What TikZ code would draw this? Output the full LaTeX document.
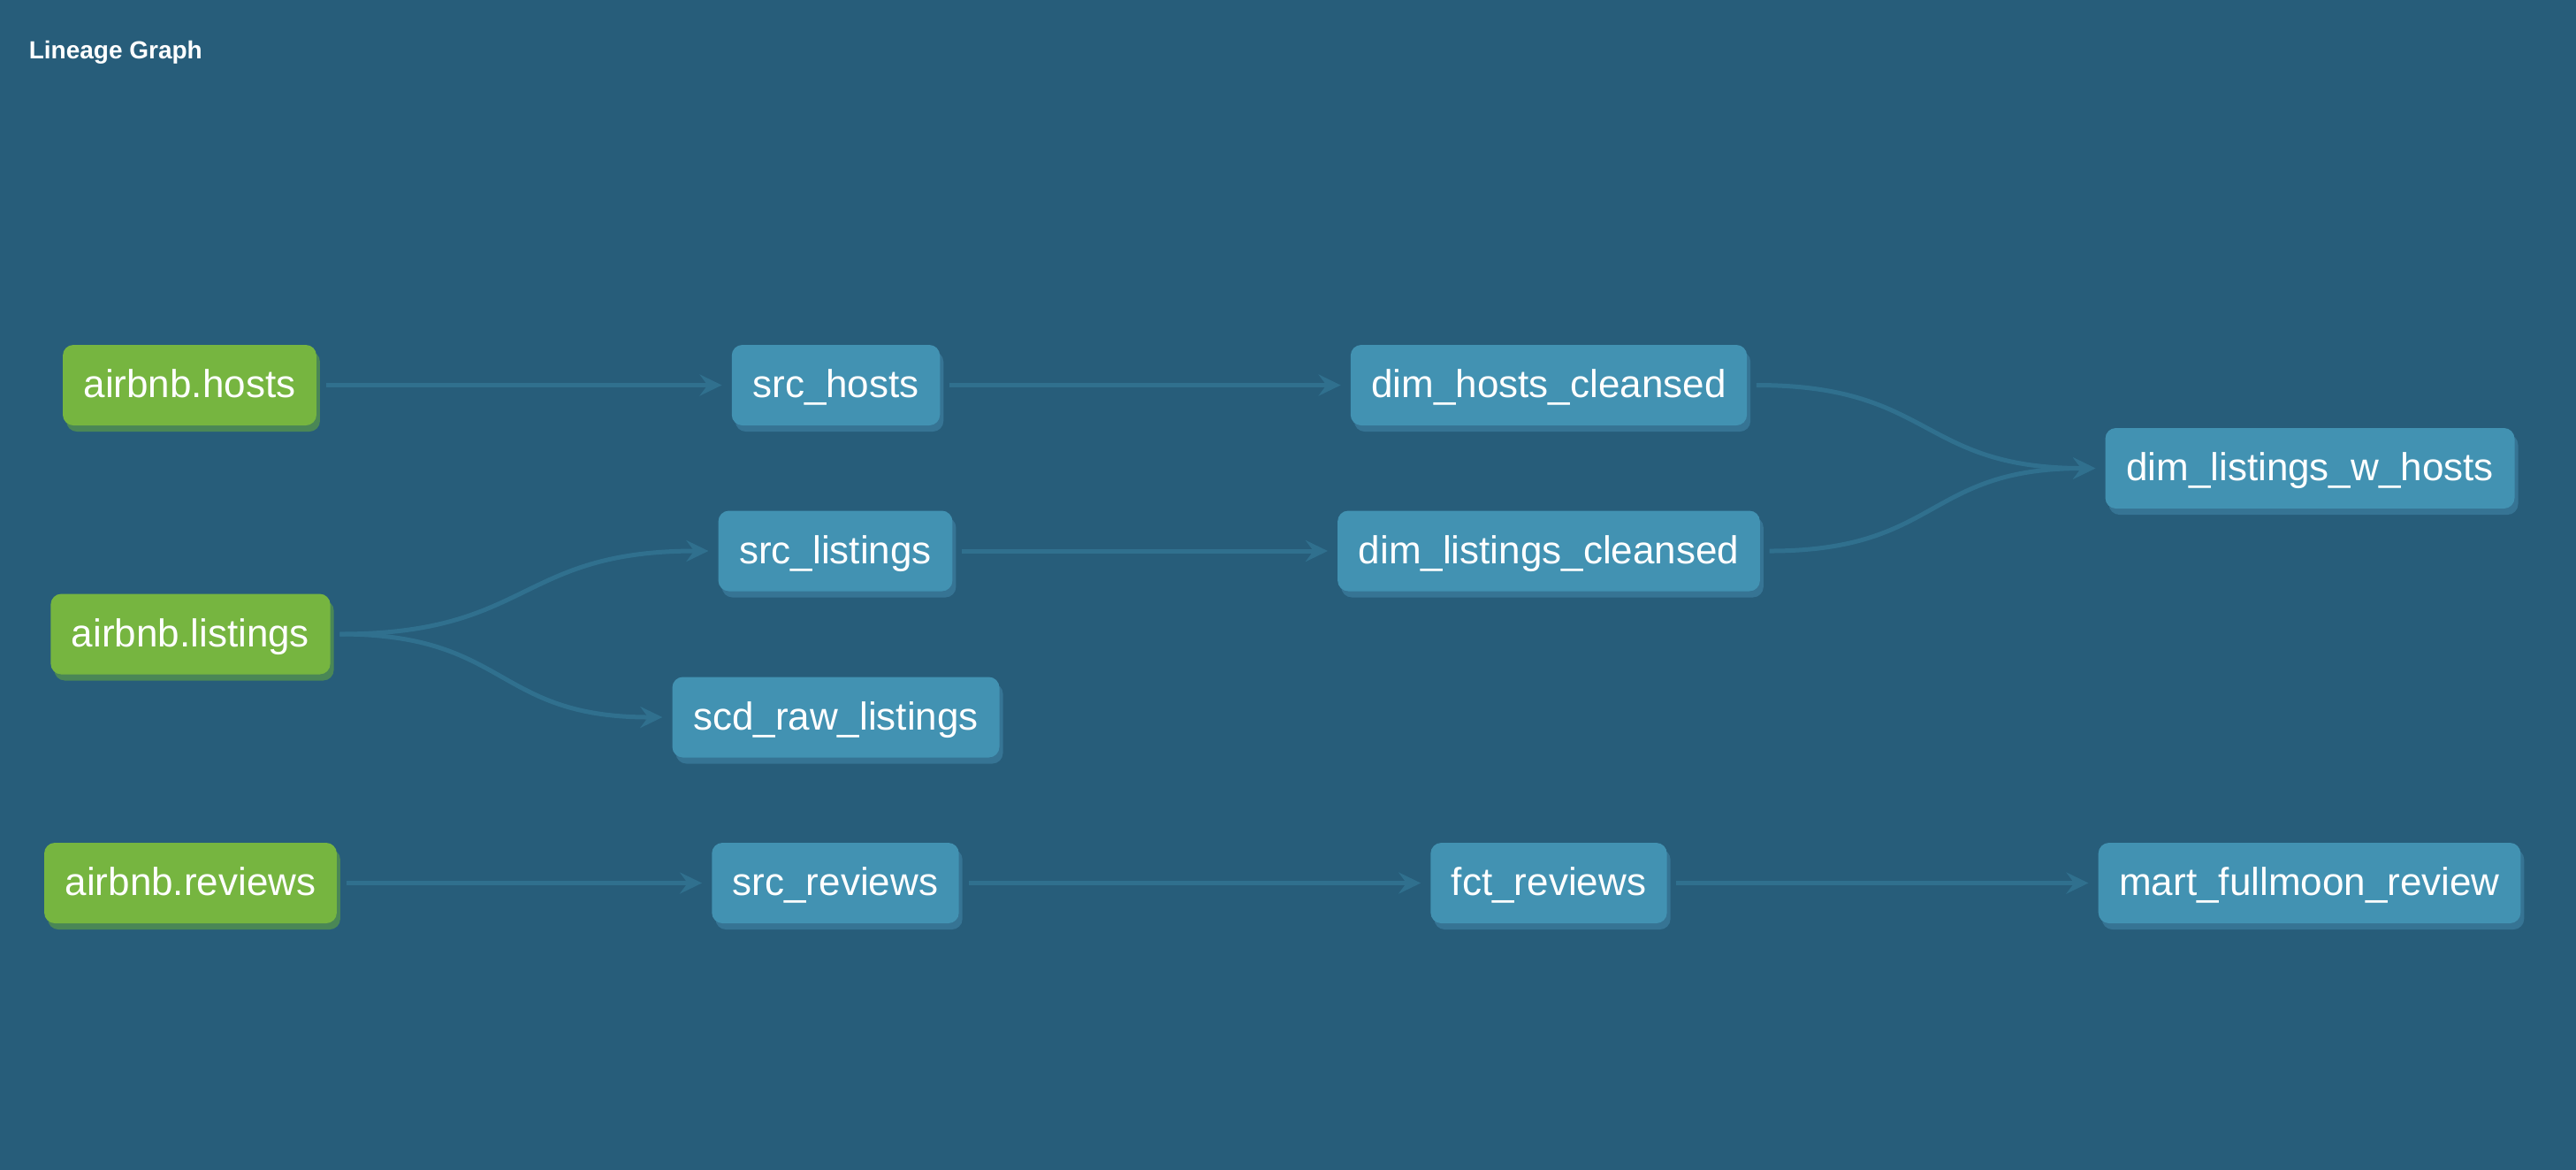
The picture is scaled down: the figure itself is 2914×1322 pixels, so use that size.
\documentclass[tikz,border=0pt]{standalone}
\usepackage{fontspec}
\setmainfont{Liberation Sans}
\usetikzlibrary{arrows.meta,shadows}
\definecolor{bgcol}{RGB}{39,93,122}
\definecolor{greencol}{RGB}{118,181,64}
\definecolor{greenshd}{RGB}{74,135,86}
\definecolor{bluecol}{RGB}{66,146,178}
\definecolor{blueshd}{RGB}{54,116,148}
\definecolor{edgecol}{RGB}{48,112,142}
\tikzset{
  basebox/.style={rounded corners=3pt, minimum height=22.75pt, inner xsep=5.9pt,
    inner ysep=0pt, text=white, font=\fontsize{11}{13}\selectfont,
    text height=8.7pt, text depth=1.5pt},
  srcbox/.style={basebox, fill=greencol,
    drop shadow={shadow xshift=1pt, shadow yshift=-1.75pt, opacity=1, fill=greenshd}},
  modelbox/.style={basebox, fill=bluecol,
    drop shadow={shadow xshift=1pt, shadow yshift=-1.75pt, opacity=1, fill=blueshd}},
  lineage/.style={draw=edgecol, line width=1.25pt,
    -{Stealth[length=6.25pt, width=6pt, inset=2.2pt]},
    shorten >=2.6pt, shorten <=2.5pt},
  curvy/.style={lineage, out=0, in=180, looseness=1.3}
}
\begin{document}
\begin{tikzpicture}[x=0.25pt, y=-0.25pt]
\useasboundingbox (0,0) rectangle (2914,1322);
\fill[bgcol] (-10,-10) rectangle (2924,1332);
\node[anchor=base west, text=white, inner sep=0pt,
  font=\bfseries\fontsize{7}{8}\selectfont] (title) at (32,66) {Lineage Graph};

\node[srcbox] (hosts) at (214.5,435.5) {airbnb.hosts};
\node[srcbox] (listings) at (215.5,717) {airbnb.listings};
\node[srcbox] (reviews) at (215.5,998.5) {airbnb.reviews};

\node[modelbox] (srchosts) at (945.5,435.5) {src\_hosts};
\node[modelbox] (srclistings) at (945,623) {src\_listings};
\node[modelbox] (scd) at (945.5,811) {scd\_raw\_listings};
\node[modelbox] (srcreviews) at (945,998.5) {src\_reviews};

\node[modelbox] (dimhosts) at (1752,435.5) {dim\_hosts\_cleansed};
\node[modelbox] (dimlistings) at (1752,623) {dim\_listings\_cleansed};
\node[modelbox] (fct) at (1752,998.5) {fct\_reviews};

\node[modelbox] (wh) at (2613,529.5) {dim\_listings\_w\_hosts};
\node[modelbox] (mart) at (2612.5,998.5) {mart\_fullmoon\_review};

\draw[lineage] (hosts) -- (srchosts);
\draw[lineage] (srchosts) -- (dimhosts);
\draw[lineage] (srclistings) -- (dimlistings);
\draw[lineage] (reviews) -- (srcreviews);
\draw[lineage] (srcreviews) -- (fct);
\draw[lineage] (fct) -- (mart);

\draw[curvy] (listings.east) to (srclistings.west);
\draw[curvy] (listings.east) to (scd.west);
\draw[curvy] (dimhosts.east) to (wh.west);
\draw[curvy] (dimlistings.east) to (wh.west);
\end{tikzpicture}
\end{document}
